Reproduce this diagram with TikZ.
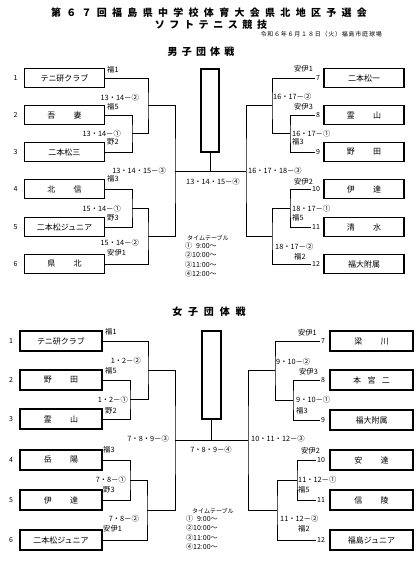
\documentclass[tikz,border=0pt]{standalone}
\usepackage{fontspec}
\setmainfont{Noto Sans CJK JP}
\usetikzlibrary{positioning}
\newcommand{\gapname}[2]{#1\hspace{2.3em}#2}
\tikzset{
	team/.style={draw, line width=1.6pt, minimum width=80pt, minimum height=19pt, inner sep=0pt, font=\fontsize{8}{9}\selectfont},
	wteam/.style={team, minimum width=82pt, minimum height=20pt},
	champ/.style={draw, line width=1.6pt, inner sep=0pt},
	num/.style={inner sep=1pt, font=\fontsize{7}{8}\selectfont},
	lbl/.style={inner sep=0pt, font=\fontsize{7.3}{8}\selectfont},
	tt/.style={inner sep=0pt, font=\fontsize{7}{9.5}\selectfont, align=left},
	bk/.style={line width=0.8pt},
	head/.style={inner sep=0pt, font=\bfseries\fontsize{10}{10}\selectfont\addfontfeature{LetterSpace=#1}},
}
\begin{document}
\begin{tikzpicture}[x=1pt, y=-1pt]
	\useasboundingbox (0,0) rectangle (420,563);
	\node[head=53] (ttl1) at (209,12.5) {第６７回福島県中学校体育大会県北地区予選会};
	\node[head=46] (ttl2) at (211,24.5) {ソフトテニス競技};
	\node[anchor=east, inner sep=0pt, font=\fontsize{6}{6}\selectfont\addfontfeature{LetterSpace=13}] (ttl3) at (382,34) {令和６年６月１８日（火）福島市庭球場};
	\node[head=42] (mhd) at (201,52) {男子団体戦};

	\node[team] (mb1) at (64.5,78) {テニ研クラブ};
	\node[team] (mb2) at (64.5,115) {\gapname{吾}{妻}};
	\node[team] (mb3) at (64.5,152) {二本松三};
	\node[team] (mb4) at (64.5,189) {\gapname{北}{信}};
	\node[team] (mb5) at (64.5,227) {二本松ジュニア};
	\node[team] (mb6) at (64.5,264) {\gapname{県}{北}};
	\node[team] (mb7) at (364,78) {二本松一};
	\node[team] (mb8) at (364,115) {\gapname{霊}{山}};
	\node[team] (mb9) at (364,152) {\gapname{野}{田}};
	\node[team] (mb10) at (364,189) {\gapname{伊}{達}};
	\node[team] (mb11) at (364,227) {\gapname{清}{水}};
	\node[team] (mb12) at (364,264) {福大附属};
	\foreach \i in {1,...,6}
		\node[num, left=5pt of mb\i] (mn\i) {\i};
	\foreach \i in {7,...,12}
		\node[num, left=2pt of mb\i] (mn\i) {\i};
	\node[champ, minimum width=18pt, minimum height=83pt] (mc) at (210,110.5) {};

	\coordinate (mq1) at (132,133.5);
	\coordinate (ms1) at (148,105.75);
	\coordinate (mq2) at (132,208);
	\coordinate (ms2) at (148,236);
	\coordinate (mf1) at (175,171);
	\coordinate (mfc) at (210,171);
	\coordinate (mf2) at (246,171);
	\coordinate (ms3) at (272,105.75);
	\coordinate (mq3) at (290,133.5);
	\coordinate (ms4) at (272,236);
	\coordinate (mq4) at (290,208);
	\draw[bk] (mb2.east) -| (mq1) |- (mb3.east);
	\draw[bk] (mb1.east) -| (ms1) |- (mq1);
	\draw[bk] (mb4.east) -| (mq2) |- (mb5.east);
	\draw[bk] (mb6.east) -| (ms2) |- (mq2);
	\draw[bk] (ms1) -| (mf1) |- (ms2);
	\draw[bk] (mf1) -- (mf2);
	\draw[bk] (mc) -- (mfc);
	\draw[bk] (ms3) -| (mf2) |- (ms4);
	\draw[bk] (mn7.west) -| (ms3) |- (mq3);
	\draw[bk] (mn8.west) -| (mq3) |- (mn9.west);
	\draw[bk] (mn10.west) -| (mq4) |- (mn11.west);
	\draw[bk] (mn12.west) -| (ms4) |- (mq4);

	\node[lbl, anchor=west] (ml1) at (107,70) {福1};
	\node[lbl, anchor=east] (ml2) at (139,98) {13・14－②};
	\node[lbl, anchor=west] (ml3) at (107,107) {福5};
	\node[lbl, anchor=east] (ml4) at (121,134) {13・14－①};
	\node[lbl, anchor=west] (ml5) at (107,142) {野2};
	\node[lbl, anchor=east] (ml6) at (166,171) {13・14・15－③};
	\node[lbl, anchor=west] (ml7) at (107,179) {福3};
	\node[lbl, anchor=east] (ml8) at (121,209) {15・14－①};
	\node[lbl, anchor=west] (ml9) at (107,218) {野3};
	\node[lbl, anchor=east] (ml10) at (139,243) {15・14－②};
	\node[lbl, anchor=west] (ml11) at (107,253) {安伊1};
	\node[lbl] (ml12) at (213,182) {13・14・15－④};
	\node[lbl, anchor=east] (mr1) at (313,69) {安伊1};
	\node[lbl, anchor=west] (mr2) at (273,97) {16・17－②};
	\node[lbl, anchor=east] (mr3) at (313,107) {安伊3};
	\node[lbl, anchor=west] (mr4) at (292,134) {16・17－①};
	\node[lbl, anchor=west] (mr5) at (292,142) {福3};
	\node[lbl, anchor=west] (mr6) at (248,171) {16・17・18－③};
	\node[lbl, anchor=east] (mr7) at (313,182) {安伊2};
	\node[lbl, anchor=west] (mr8) at (292,209) {18・17－①};
	\node[lbl, anchor=west] (mr9) at (292,218) {福5};
	\node[lbl, anchor=west] (mr10) at (275,247) {18・17－②};
	\node[lbl, anchor=west] (mr11) at (294,257) {福2};
	\node[lbl, font=\fontsize{6}{7}\selectfont, anchor=west] (mt1) at (187,238) {タイムテーブル};
	\node[tt, anchor=north west] (mt2) at (185,242) {①\phantom{1}9:00～\\②10:00～\\③11:00～\\④12:00～};

	\node[head=58] (whd) at (209,312) {女子団体戦};

	\node[wteam] (wb1) at (61,341) {テニ研クラブ};
	\node[wteam] (wb2) at (61,380) {\gapname{野}{田}};
	\node[wteam] (wb3) at (61,419) {\gapname{霊}{山}};
	\node[wteam] (wb4) at (61,460) {\gapname{岳}{陽}};
	\node[wteam] (wb5) at (61,500) {\gapname{伊}{達}};
	\node[wteam] (wb6) at (61,540) {二本松ジュニア};
	\node[wteam, minimum width=83pt] (wb7) at (371.5,341) {\gapname{梁}{川}};
	\node[wteam, minimum width=83pt] (wb8) at (371.5,380) {本\hspace{0.8em}宮\hspace{0.8em}二};
	\node[wteam, minimum width=83pt] (wb9) at (371.5,420) {福大附属};
	\node[wteam, minimum width=83pt] (wb10) at (371.5,460) {\gapname{安}{達}};
	\node[wteam, minimum width=83pt] (wb11) at (371.5,500) {\gapname{信}{陵}};
	\node[wteam, minimum width=83pt] (wb12) at (371.5,540) {福島ジュニア};
	\foreach \i in {1,...,6}
		\node[num, left=5pt of wb\i] (wn\i) {\i};
	\foreach \i in {7,...,12}
		\node[num, left=3pt of wb\i] (wn\i) {\i};
	\node[champ, minimum width=19pt, minimum height=88pt] (wc) at (211.5,375) {};

	\coordinate (wq1) at (130,399.5);
	\coordinate (ws1) at (148,370.25);
	\coordinate (wq2) at (130,480);
	\coordinate (ws2) at (147,510);
	\coordinate (wf1) at (175,440);
	\coordinate (wfc) at (211.5,440);
	\coordinate (wf2) at (248,440);
	\coordinate (ws3) at (275,370.5);
	\coordinate (wq3) at (293,400);
	\coordinate (ws4) at (277,510);
	\coordinate (wq4) at (297,480);
	\draw[bk] (wb2.east) -| (wq1) |- (wb3.east);
	\draw[bk] (wb1.east) -| (ws1) |- (wq1);
	\draw[bk] (wb4.east) -| (wq2) |- (wb5.east);
	\draw[bk] (wb6.east) -| (ws2) |- (wq2);
	\draw[bk] (ws1) -| (wf1) |- (ws2);
	\draw[bk] (wf1) -- (wf2);
	\draw[bk] (wc) -- (wfc);
	\draw[bk] (ws3) -| (wf2) |- (ws4);
	\draw[bk] (wn7.west) -| (ws3) |- (wq3);
	\draw[bk] (wn8.west) -| (wq3) |- (wn9.west);
	\draw[bk] (wn10.west) -| (wq4) |- (wn11.west);
	\draw[bk] (wn12.west) -| (ws4) |- (wq4);

	\node[lbl, anchor=west] (wl1) at (105,332) {福1};
	\node[lbl, anchor=east] (wl2) at (141,361) {1・2－②};
	\node[lbl, anchor=west] (wl3) at (105,371) {福5};
	\node[lbl, anchor=east] (wl4) at (128,400) {1・2－①};
	\node[lbl, anchor=west] (wl5) at (105,411) {野2};
	\node[lbl, anchor=east] (wl6) at (169,439) {7・8・9－③};
	\node[lbl, anchor=west] (wl7) at (103,450) {福3};
	\node[lbl, anchor=east] (wl8) at (126,480) {7・8－①};
	\node[lbl, anchor=west] (wl9) at (103,490) {野3};
	\node[lbl, anchor=east] (wl10) at (139,519) {7・8－②};
	\node[lbl, anchor=west] (wl11) at (103,529) {安伊1};
	\node[lbl] (wl12) at (211,450) {7・8・9－④};
	\node[lbl, anchor=east] (wr1) at (317,333) {安伊1};
	\node[lbl, anchor=west] (wr2) at (276,362) {9・10－②};
	\node[lbl, anchor=east] (wr3) at (318,372) {安伊3};
	\node[lbl, anchor=west] (wr4) at (296,400) {9・10－①};
	\node[lbl, anchor=west] (wr5) at (296,411) {福3};
	\node[lbl, anchor=west] (wr6) at (251,439) {10・11・12－③};
	\node[lbl, anchor=east] (wr7) at (320,451) {安伊2};
	\node[lbl, anchor=west] (wr8) at (298,480) {11・12－①};
	\node[lbl, anchor=west] (wr9) at (298,490) {福5};
	\node[lbl, anchor=west] (wr10) at (280,519) {11・12－②};
	\node[lbl, anchor=west] (wr11) at (298,529) {福2};
	\node[lbl, font=\fontsize{6}{7}\selectfont, anchor=west] (wt1) at (192,511) {タイムテーブル};
	\node[tt, anchor=north west] (wt2) at (186,515) {①\phantom{1}9:00～\\②10:00～\\③11:00～\\④12:00～};
\end{tikzpicture}
\end{document}
